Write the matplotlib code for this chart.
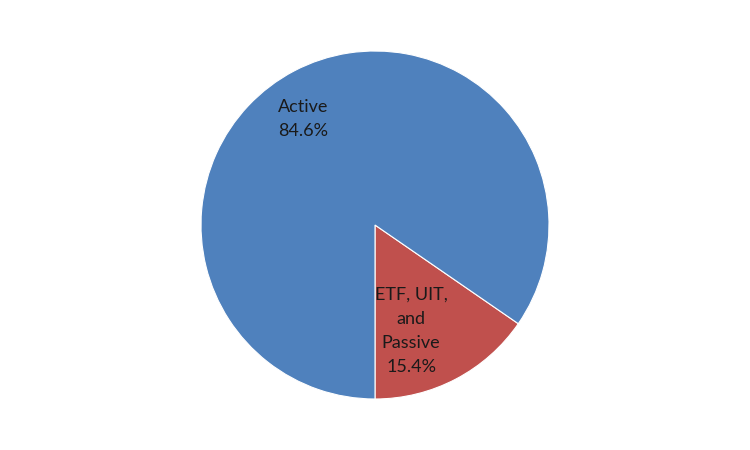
import matplotlib.pyplot as plt

# data
labels = ["ETF, UIT,\nand\nPassive", "Active"]
shares = [15.4, 84.6]
colors = ["#C0504D", "#4F81BD"]

plt.rcParams['font.family'] = ['Lato', 'DejaVu Sans']

fig = plt.figure(figsize=(7.5, 4.5), dpi=100)
ax = fig.add_axes([0, 0, 1, 1])

wedges, _ = ax.pie(shares, colors=colors, startangle=270, counterclock=True,
                   radius=1.0, wedgeprops=dict(edgecolor='white', linewidth=0.8))

# pie radius = 174 px, centre at middle of figure
r_px = 174
ax.set_xlim(-375 / r_px, 375 / r_px)
ax.set_ylim(-225 / r_px, 225 / r_px)
ax.set_aspect('equal')
ax.axis('off')

# label positions (data units) as in the original
label_pos = [(0.207, -0.609), (-0.414, 0.609)]
for lab, val, (x, y) in zip(labels, shares, label_pos):
    ax.text(x, y, f"{lab}\n{val:.1f}%", ha='center', va='center',
            fontsize=13, color='#1a1a1a', linespacing=1.62)

fig.savefig('out.png', dpi=100)
